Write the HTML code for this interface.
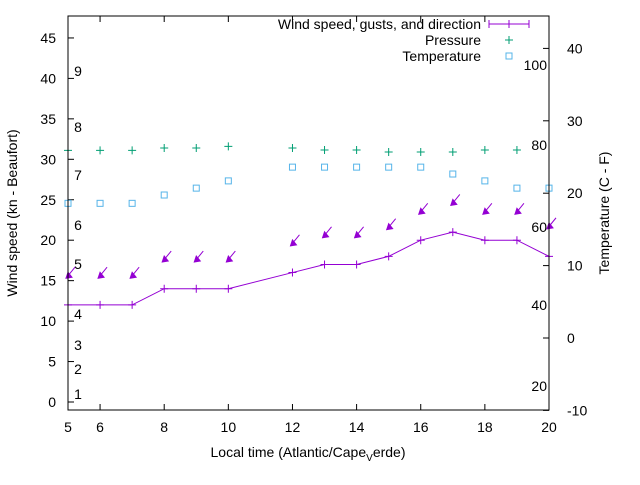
<!DOCTYPE html>
<html><head><meta charset="utf-8"><style>body{margin:0;background:#fff}svg{font-family:"Liberation Sans",sans-serif}</style></head>
<body>
<svg width="640" height="480" xmlns="http://www.w3.org/2000/svg">
<g id="grid"></g>
<g id="marks"></g>
<text x="0" y="0" transform="translate(17,213) rotate(-90)" text-anchor="middle" font-size="14">Wind speed (kn - Beaufort)</text>
<text x="0" y="0" transform="translate(609,213) rotate(-90)" text-anchor="middle" font-size="14">Temperature (C - F)</text>
<text x="308" y="457" text-anchor="middle" font-size="14">Local time (Atlantic/Cape<tspan font-size="10" dy="4">V</tspan><tspan dy="-4">erde)</tspan></text>
<g font-size="14">
<text x="481" y="29" text-anchor="end">Wind speed, gusts, and direction</text>
<line x1="489" y1="24" x2="529" y2="24" stroke="#9400d3"/><line x1="489" y1="20" x2="489" y2="28" stroke="#9400d3"/><line x1="529" y1="20" x2="529" y2="28" stroke="#9400d3"/><path d="M505 24h8M509 20v8" stroke="#9400d3"/>
<text x="481" y="45" text-anchor="end">Pressure</text>
<path d="M505 40h8M509 36v8" stroke="#009e73"/>
<text x="481" y="61" text-anchor="end">Temperature</text>
<rect x="506" y="53" width="6" height="6" fill="none" stroke="#56b4e9"/>
</g>
<rect x="68" y="16" width="481" height="394" fill="none" stroke="#000"/>
<script>
const hours=[5,6,7,8,9,10,12,13,14,15,16,17,18,19,20];
const wind=[12,12,12,14,14,14,16,17,17,18,20,21,20,20,18];
const gusts=[15.3,15.3,15.3,17.3,17.3,17.3,19.3,20.3,20.3,21.3,23.2,24.3,23.2,23.2,21.4];
const pressure=[31.1,31.1,31.1,31.4,31.4,31.6,31.4,31.15,31.15,30.9,30.9,30.9,31.15,31.15];
const temperature=[18.6,18.6,18.6,19.75,20.7,21.7,23.6,23.6,23.6,23.6,23.6,22.65,21.7,20.7,20.7];
const xTicks=[6,8,10,12,14,16,18,20];
const yTicks=[0,5,10,15,20,25,30,35,40,45];
const y2Ticks=[-10,0,10,20,30,40];
const beaufort=[["1",394],["2",369],["3",345],["4",314],["5",264],["6",225],["7",175],["8",127],["9",71]];
const fahr=[["100",65],["80",145],["60",227],["40",305],["20",386]];
const X=h=>68+(h-5)*481/15;
const Y=v=>402-v*8.09;
const Y2=t=>338-t*7.24;
const NS="http://www.w3.org/2000/svg";
const g=document.getElementById('marks');
function mk(tag,attrs,parent){const e=document.createElementNS(NS,tag);for(const k in attrs)e.setAttribute(k,attrs[k]);(parent||g).appendChild(e);return e;}
xTicks.forEach(t=>{const l=mk('path',{d:`M${X(t)} 410v-6M${X(t)} 16v6`,stroke:'#000'});
const tx=mk('text',{x:X(t),y:432,'text-anchor':'middle','font-size':14});tx.textContent=t;});
mk('text',{x:68,y:432,'text-anchor':'middle','font-size':14}).textContent='';
{const tx=mk('text',{x:X(5),y:432,'text-anchor':'middle','font-size':14});tx.textContent='5';}
yTicks.forEach(t=>{const l=mk('path',{d:`M68 ${Y(t)}h6`,stroke:'#000'});
const tx=mk('text',{x:56,y:Y(t)+5,'text-anchor':'end','font-size':14});tx.textContent=t;});
y2Ticks.forEach(t=>{const l=mk('path',{d:`M549 ${Y2(t)}h-6`,stroke:'#000'});
const tx=mk('text',{x:567,y:Y2(t)+5,'text-anchor':'start','font-size':14});tx.textContent=t;});
beaufort.forEach(b=>{const tx=mk('text',{x:78,y:b[1]+5,'text-anchor':'middle','font-size':14});tx.textContent=b[0];});
fahr.forEach(b=>{const tx=mk('text',{x:547,y:b[1]+5,'text-anchor':'end','font-size':14});tx.textContent=b[0];});
const line=mk('polyline',{points:hours.map((h,i)=>X(h)+','+Y(wind[i])).join(' '),fill:'none',stroke:'#9400d3'});

hours.forEach((h,i)=>{const p=mk('path',{d:`M${X(h)-4} ${Y(wind[i])}h8M${X(h)} ${Y(wind[i])-4}v8`,stroke:'#9400d3'});
const tx=X(h)-2,ty=Y(gusts[i]);
const a=mk('g',{});
mk('path',{d:`M${tx} ${ty}L${tx+9} ${ty-11}`,stroke:'#9400d3'},a);
mk('path',{d:`M${tx} ${ty}l6 -1l-4 -5z`,fill:'#9400d3',stroke:'#9400d3'},a);});
pressure.forEach((v,i)=>{const p=mk('path',{d:`M${X(hours[i])-4} ${Y(v)}h8M${X(hours[i])} ${Y(v)-4}v8`,stroke:'#009e73'});});
temperature.forEach((v,i)=>{const r=mk('rect',{x:X(hours[i])-3,y:Y2(v)-3,width:6,height:6,fill:'none',stroke:'#56b4e9'});});
</script>
</svg>
</body></html>
